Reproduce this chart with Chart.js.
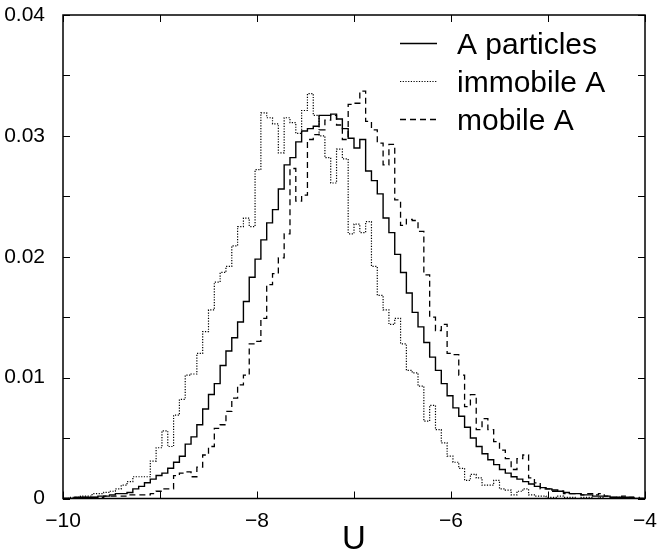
<!DOCTYPE html>
<html>
<head>
<meta charset="utf-8">
<script src="https://cdn.jsdelivr.net/npm/chart.js@4.4.1/dist/chart.umd.min.js"></script>
<style>
  html, body { margin: 0; padding: 0; background: #fff; }
  #wrap { width: 658px; height: 556px; }
</style>
</head>
<body>
<div id="wrap"><canvas id="c" width="658" height="556"></canvas></div>
<script>
// Histogram of the potential energy U: 100 bins of width 0.06 on [-10, -4]
const binStart = -10;
const binWidth = 0.06;

const seriesNames = ['A particles', 'immobile A', 'mobile A'];

const allA = [
  0.0000, 0.0000, 0.0001, 0.0001, 0.0001, 0.0001, 0.0002, 0.0002, 0.0003, 0.0004,
  0.0004, 0.0005, 0.0008, 0.0010, 0.0013, 0.0016, 0.0019, 0.0021, 0.0025, 0.0030,
  0.0035, 0.0045, 0.0051, 0.0061, 0.0074, 0.0086, 0.0095, 0.0110, 0.0122, 0.0133,
  0.0146, 0.0163, 0.0183, 0.0198, 0.0214, 0.0228, 0.0239, 0.0256, 0.0276, 0.0282,
  0.0295, 0.0304, 0.0306, 0.0308, 0.0317, 0.0317, 0.0318, 0.0314, 0.0306, 0.0298,
  0.0290, 0.0297, 0.0271, 0.0263, 0.0252, 0.0232, 0.0220, 0.0202, 0.0187, 0.0170,
  0.0154, 0.0142, 0.0129, 0.0117, 0.0106, 0.0095, 0.0085, 0.0075, 0.0068, 0.0059,
  0.0050, 0.0043, 0.0037, 0.0032, 0.0028, 0.0024, 0.0021, 0.0018, 0.0016, 0.0014,
  0.0012, 0.0010, 0.0009, 0.0008, 0.0007, 0.0006, 0.0005, 0.0004, 0.0004, 0.0003,
  0.0003, 0.0002, 0.0002, 0.0002, 0.0001, 0.0001, 0.0001, 0.0001, 0.0000, 0.0000
];

const immobileA = [
  0.0000, 0.0001, 0.0001, 0.0002, 0.0002, 0.0004, 0.0004, 0.0005, 0.0006, 0.0008,
  0.0011, 0.0014, 0.0018, 0.0018, 0.0018, 0.0031, 0.0042, 0.0056, 0.0043, 0.0069,
  0.0082, 0.0102, 0.0103, 0.0120, 0.0138, 0.0156, 0.0179, 0.0187, 0.0192, 0.0209,
  0.0225, 0.0232, 0.0225, 0.0272, 0.0319, 0.0315, 0.0310, 0.0286, 0.0315, 0.0311,
  0.0302, 0.0321, 0.0335, 0.0317, 0.0300, 0.0282, 0.0261, 0.0289, 0.0281, 0.0219,
  0.0227, 0.0220, 0.0229, 0.0192, 0.0168, 0.0156, 0.0144, 0.0149, 0.0128, 0.0106,
  0.0104, 0.0093, 0.0064, 0.0077, 0.0057, 0.0046, 0.0035, 0.0030, 0.0025, 0.0015,
  0.0020, 0.0017, 0.0011, 0.0011, 0.0015, 0.0008, 0.0007, 0.0003, 0.0006, 0.0008,
  0.0003, 0.0002, 0.0002, 0.0001, 0.0001, 0.0002, 0.0001, 0.0001, 0.0000, 0.0001,
  0.0001, 0.0000, 0.0001, 0.0000, 0.0000, 0.0001, 0.0000, 0.0000, 0.0000, 0.0000
];

const mobileA = [
  0.0000, 0.0000, 0.0000, 0.0001, 0.0001, 0.0001, 0.0001, 0.0002, 0.0002, 0.0002,
  0.0002, 0.0003, 0.0003, 0.0003, 0.0003, 0.0004, 0.0006, 0.0008, 0.0008, 0.0019,
  0.0021, 0.0022, 0.0018, 0.0026, 0.0036, 0.0043, 0.0058, 0.0061, 0.0072, 0.0083,
  0.0094, 0.0102, 0.0128, 0.0130, 0.0149, 0.0177, 0.0186, 0.0199, 0.0219, 0.0273,
  0.0246, 0.0251, 0.0297, 0.0301, 0.0305, 0.0313, 0.0317, 0.0309, 0.0297, 0.0326,
  0.0327, 0.0337, 0.0312, 0.0305, 0.0294, 0.0276, 0.0293, 0.0247, 0.0226, 0.0231,
  0.0230, 0.0221, 0.0185, 0.0150, 0.0139, 0.0144, 0.0120, 0.0119, 0.0102, 0.0076,
  0.0086, 0.0057, 0.0066, 0.0057, 0.0047, 0.0040, 0.0033, 0.0024, 0.0033, 0.0036,
  0.0017, 0.0013, 0.0008, 0.0008, 0.0006, 0.0006, 0.0004, 0.0004, 0.0004, 0.0003,
  0.0004, 0.0003, 0.0004, 0.0002, 0.0001, 0.0001, 0.0002, 0.0001, 0.0001, 0.0000
];

const xTickLabels = ['−10', '−8', '−6', '−4'];
const yTickLabels = ['0', '0.01', '0.02', '0.03', '0.04'];

const FONT = "'Liberation Sans', Arial, Helvetica, sans-serif";

// left bin edges plus the closing edge, so each bin is drawn as a flat step
function stepPoints(values) {
  const pts = values.map((v, k) => ({ x: binStart + k * binWidth, y: v }));
  pts.push({ x: binStart + values.length * binWidth, y: values[values.length - 1] });
  return pts;
}

const styles = [
  { dash: [], width: 1.4 },
  { dash: [1.2, 1.5], width: 1.2 },
  { dash: [6, 4], width: 1.3 }
];

const datasets = [allA, immobileA, mobileA].map((vals, i) => ({
  label: seriesNames[i],
  data: stepPoints(vals),
  borderColor: '#000',
  borderWidth: styles[i].width,
  borderDash: styles[i].dash,
  stepped: 'before',
  pointRadius: 0,
  fill: false
}));

// frame, inward tick marks on all four sides, and the in-plot key
const framePlugin = {
  id: 'frame',
  afterDatasetsDraw(chart) {
    const { ctx, chartArea: a, scales } = chart;
    const tl = 7;
    ctx.save();
    ctx.strokeStyle = '#000';
    ctx.lineWidth = 1;
    ctx.setLineDash([]);
    ctx.beginPath();
    scales.x.ticks.forEach(t => {
      const px = Math.round(scales.x.getPixelForValue(t.value)) + 0.5;
      ctx.moveTo(px, a.bottom); ctx.lineTo(px, a.bottom - tl);
      ctx.moveTo(px, a.top); ctx.lineTo(px, a.top + tl);
    });
    scales.y.ticks.forEach(t => {
      const py = Math.round(scales.y.getPixelForValue(t.value)) + 0.5;
      ctx.moveTo(a.left, py); ctx.lineTo(a.left + tl, py);
      ctx.moveTo(a.right, py); ctx.lineTo(a.right - tl, py);
    });
    ctx.stroke();
    ctx.lineWidth = 1.5;
    ctx.strokeRect(a.left, a.top, a.right - a.left, a.bottom - a.top);

    // key
    const x0 = 400, x1 = 437, tx = 457;
    const rows = [43, 81, 119];
    const base = [54, 92, 130];
    ctx.font = '30px ' + FONT;
    ctx.fillStyle = '#000';
    ctx.textAlign = 'left';
    ctx.textBaseline = 'alphabetic';
    chart.data.datasets.forEach((ds, i) => {
      ctx.beginPath();
      ctx.lineWidth = ds.borderWidth;
      ctx.setLineDash(ds.borderDash);
      ctx.moveTo(x0, rows[i] + 0.5);
      ctx.lineTo(x1, rows[i] + 0.5);
      ctx.stroke();
      ctx.fillText(ds.label, tx, base[i]);
    });
    ctx.restore();
  }
};

new Chart(document.getElementById('c'), {
  type: 'line',
  data: { datasets },
  options: {
    responsive: false,
    animation: false,
    devicePixelRatio: 1,
    layout: { padding: { top: 15, right: 13, left: 0, bottom: 0 } },
    plugins: { legend: { display: false }, tooltip: { enabled: false } },
    scales: {
      x: {
        type: 'linear',
        min: -10,
        max: -4,
        grid: { display: false, drawTicks: false },
        border: { display: false },
        ticks: {
          stepSize: 1,
          padding: 10,
          color: '#000',
          font: { family: FONT, size: 21 },
          maxRotation: 0,
          autoSkip: false,
          callback: (v) => {
            const i = xTickLabels.findIndex(s => Number(s.replace('−', '-')) === v);
            return i >= 0 ? xTickLabels[i] : '';
          }
        },
        title: {
          display: true,
          text: 'U',
          color: '#000',
          font: { family: FONT, size: 33, lineHeight: 1 },
          padding: 0
        },
        afterFit(scale) {
          scale.height = 57.5;
          scale.paddingLeft = 0;
          scale.paddingRight = 0;
        }
      },
      y: {
        type: 'linear',
        min: 0,
        max: 0.04,
        grid: { display: false, drawTicks: false },
        border: { display: false },
        ticks: {
          stepSize: 0.005,
          padding: 18,
          color: '#000',
          font: { family: FONT, size: 21 },
          autoSkip: false,
          callback: (v) => {
            const i = yTickLabels.findIndex(s => Math.abs(Number(s) - v) < 1e-9);
            return i >= 0 ? yTickLabels[i] : '';
          }
        },
        afterFit(scale) {
          scale.width = 63;
          scale.paddingTop = 0;
          scale.paddingBottom = 0;
        }
      }
    }
  },
  plugins: [framePlugin]
});
</script>
</body>
</html>
